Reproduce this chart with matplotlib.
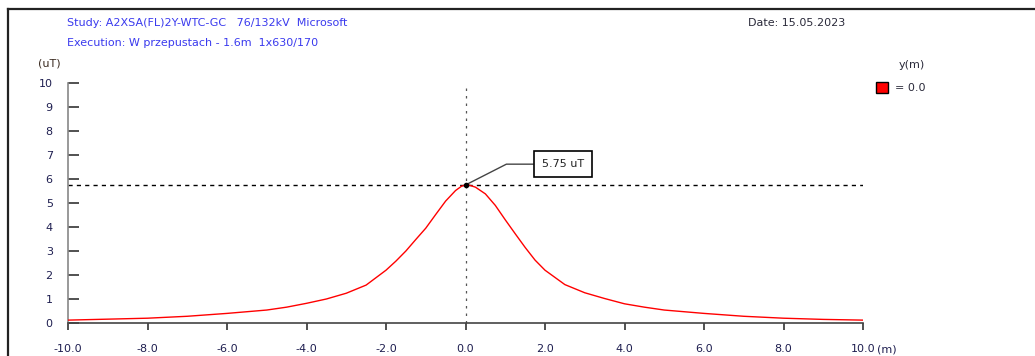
import matplotlib
matplotlib.use("Agg")
from matplotlib import pyplot as plt
from matplotlib.lines import Line2D
from matplotlib.patches import Rectangle

# field profile (distance in m, flux density in uT)
distance = [-10, -9, -8, -7, -6, -5, -4.5, -4, -3.5, -3, -2.5, -2, -1.75, -1.5, -1.25, -1, -0.75, -0.5,
            -0.25, -0.1, 0, 0.1, 0.25, 0.5, 0.75, 1, 1.25, 1.5, 1.75, 2, 2.5, 3, 3.5, 4, 4.5, 5,
            6, 7, 8, 9, 10]
flux = [0.12, 0.16, 0.2, 0.28, 0.4, 0.54, 0.66, 0.82, 1.0, 1.24, 1.58, 2.2, 2.58, 3.0, 3.48, 3.95, 4.52, 5.08,
        5.52, 5.7, 5.75, 5.74, 5.66, 5.38, 4.9, 4.3, 3.72, 3.15, 2.62, 2.2, 1.6, 1.26, 1.02, 0.8, 0.66, 0.54,
        0.4, 0.28, 0.2, 0.15, 0.12]
peak_x = 0.0
peak_y = 5.75
x_ticks = [-10, -8, -6, -4, -2, 0, 2, 4, 6, 8, 10]
y_ticks = list(range(0, 11))

W, H = 1035, 356
fig = plt.figure(figsize=(W / 100, H / 100), dpi=100)
fig.patch.set_facecolor("white")

ax = fig.add_axes([68 / W, 1 - 323 / H, (863 - 68) / W, (323 - 83) / H])
ax.set_xlim(-10, 10)
ax.set_ylim(0, 10)

label_col = "#1e1e50"
blue = "#3a3aee"

# curve
ax.plot(distance, flux, color="red", lw=1.0, zorder=3)

# max indicator lines
ax.axhline(peak_y, color="black", lw=1.0, ls=(0, (3, 3)), zorder=2)
ax.plot([peak_x, peak_x], [0, 9.85], color="#555555", lw=0.9, ls=(0, (2, 4)), zorder=2, clip_on=False)
ax.plot(peak_x, peak_y, "o", ms=3, color="black", zorder=4)
ax.annotate(f"{peak_y:.2f} uT", xy=(peak_x, peak_y), xytext=(70, 15), textcoords="offset points",
            fontsize=8, color="#222222", ha="center", va="center",
            bbox=dict(boxstyle="square,pad=0.7", fc="white", ec="black", lw=1.2),
            arrowprops=dict(arrowstyle="-", color="#444444", lw=1.0,
                            connectionstyle="angle,angleA=0,angleB=27,rad=0", shrinkA=0, shrinkB=0))

# axes styling
for s in ["top", "right"]:
    ax.spines[s].set_visible(False)
ax.spines["left"].set_color("#888888")
ax.spines["bottom"].set_color("#444444")
ax.spines["left"].set_linewidth(1.2)
ax.spines["bottom"].set_linewidth(1.2)
ax.set_xticks(x_ticks)
ax.set_xticklabels([f"{v:.1f}" for v in x_ticks])
ax.set_yticks(y_ticks)
ax.tick_params(axis="y", direction="in", length=8, width=1.2, color="#333333", pad=11,
               labelsize=8, labelcolor=label_col)
ax.tick_params(axis="x", direction="out", length=5, width=1.2, color="#333333", pad=10,
               labelsize=8, labelcolor=label_col)

# units
fig.text(38 / W, 1 - 63 / H, "(uT)", fontsize=8, color="#3a2a20", va="center", ha="left")
fig.text(877 / W, 1 - 349 / H, "(m)", fontsize=8, color=label_col, va="center", ha="left")

# header
fig.text(67 / W, 1 - 23 / H, "Study: A2XSA(FL)2Y-WTC-GC   76/132kV  Microsoft", fontsize=8, color=blue, va="center")
fig.text(67 / W, 1 - 43 / H, "Execution: W przepustach - 1.6m  1x630/170", fontsize=8, color=blue, va="center")
fig.text(748 / W, 1 - 23 / H, "Date: 15.05.2023", fontsize=8, color="#2a2a3a", va="center")

# legend
fig.text(912 / W, 1 - 65 / H, "y(m)", fontsize=8, color="#2a2a3a", va="center", ha="center")
fig.patches.append(Rectangle((876 / W, 1 - 93 / H), 12 / W, 11 / H, transform=fig.transFigure,
                             fc="red", ec="black", lw=1.0))
fig.text(895 / W, 1 - 88 / H, "= 0.0", fontsize=8, color="#2a2a3a", va="center", ha="left")

# outer frame
fig.lines.append(Line2D([8 / W, 1.0], [1 - 9 / H, 1 - 9 / H], transform=fig.transFigure, color="#222222", lw=1.6))
fig.lines.append(Line2D([8 / W, 8 / W], [0, 1 - 9 / H], transform=fig.transFigure, color="#222222", lw=1.6))

fig.savefig("out.png", dpi=100)
